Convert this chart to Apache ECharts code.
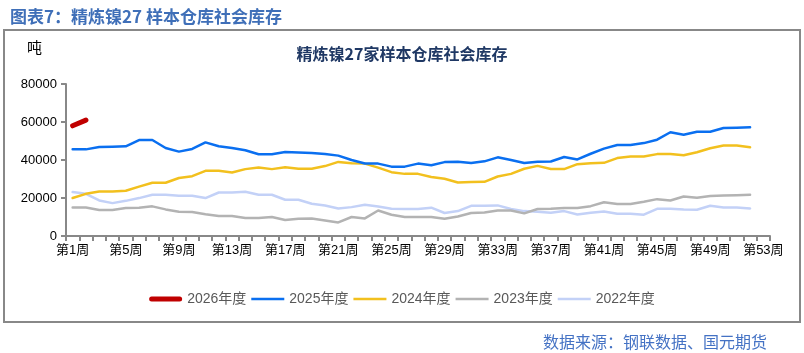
<!DOCTYPE html>
<html>
<head>
<meta charset="utf-8">
<script src="https://cdn.jsdelivr.net/npm/echarts@6/dist/echarts.min.js"></script>
<style>
  html, body { margin: 0; padding: 0; background: #fff; }
  #chart { width: 804px; height: 353px; }
</style>
</head>
<body>
<div id="chart"></div>
<script>
var weeks = ['第1周','第2周','第3周','第4周','第5周','第6周','第7周','第8周','第9周','第10周',
  '第11周','第12周','第13周','第14周','第15周','第16周','第17周','第18周','第19周','第20周',
  '第21周','第22周','第23周','第24周','第25周','第26周','第27周','第28周','第29周','第30周',
  '第31周','第32周','第33周','第34周','第35周','第36周','第37周','第38周','第39周','第40周',
  '第41周','第42周','第43周','第44周','第45周','第46周','第47周','第48周','第49周','第50周',
  '第51周','第52周','第53周'];

var y2026 = [58000, 61000];

var y2025 = [45600,45600,46800,47000,47200,50500,50500,46300,44400,45800,
  49300,47200,46300,45100,43000,43000,44200,44000,43700,43200,
  42300,40000,38200,38100,36500,36500,38100,37200,38900,39100,
  38400,39300,41400,40000,38400,39100,39200,41600,40300,43300,
  46000,47900,47900,48900,50700,54600,53300,54900,54900,56800,
  57000,57200];

var y2024 = [20000,22200,23400,23400,23800,26000,28000,28000,30500,31500,
  34300,34300,33400,35200,36000,35200,36200,35400,35400,36800,
  39000,38300,38100,36000,33600,32700,32700,31100,30100,28200,
  28400,28500,31300,32700,35400,36900,35300,35200,37800,38300,
  38500,41000,41800,41800,43100,43100,42500,44100,46200,47600,
  47600,46700];

var y2023 = [15000,15000,13700,13700,14700,14900,15600,14000,12800,12600,
  11500,10500,10500,9450,9450,10000,8400,9100,9200,8200,
  7150,10000,9250,13400,11200,10000,10000,10000,9100,10300,
  12100,12400,13400,13400,11900,14200,14300,14700,14700,15700,
  17800,16800,16800,18000,19400,18700,20800,20100,21000,21300,
  21500,21700];

var y2022 = [23100,22200,18700,17300,18500,19950,21700,21700,21200,21200,
  19950,22900,22900,23300,21700,21700,19100,19100,17000,16100,
  14500,15200,16400,15500,14300,14200,14200,14900,12100,13100,
  15900,15900,16100,14200,13100,12800,12200,13100,11300,12200,
  12900,11700,11700,11200,14300,14300,14000,13800,15900,15000,
  15000,14500];

var seriesNames = ['2026年度','2025年度','2024年度','2023年度','2022年度'];

// legend icons: a thick bar for 2026, thin bars for the rest
var thickIcon = 'path://M2.5,0H30.5A2.5,2.5,0,0,1,30.5,5H2.5A2.5,2.5,0,0,1,2.5,0Z';
var thinIcon = 'path://M0,0H33V2.5H0Z';

var chart = echarts.init(document.getElementById('chart'));

function line(name, data, color, width) {
  return {
    name: name,
    type: 'line',
    data: data,
    symbol: 'none',
    showSymbol: false,
    lineStyle: { color: color, width: width, cap: 'round' },
    itemStyle: { color: color },
    emphasis: { disabled: true }
  };
}

var option = {
  animation: false,
  backgroundColor: '#fff',
  title: [
    {
      text: '图表7：精炼镍27 样本仓库社会库存',
      left: 5, top: 3,
      textStyle: { color: '#3f6fb8', fontSize: 17, fontWeight: 'bold', fontFamily: 'Noto Sans CJK SC' }
    },
    {
      text: '精炼镍27家样本仓库社会库存',
      left: 'center', top: 41,
      textStyle: { color: '#1f3864', fontSize: 16, fontWeight: 'bold', fontFamily: 'Noto Sans CJK SC' }
    },
    {
      text: '吨',
      left: 22, top: 35,
      textStyle: { color: '#000', fontSize: 15, fontWeight: 'normal', fontFamily: 'Noto Sans CJK SC' }
    },
    {
      text: '数据来源：钢联数据、国元期货',
      right: 32, top: 329,
      textStyle: { color: '#4472c4', fontSize: 16, fontWeight: 'normal', fontFamily: 'Noto Sans CJK SC' }
    }
  ],
  graphic: [
    {
      type: 'rect',
      shape: { x: 4, y: 30, width: 796, height: 292 },
      style: { fill: 'none', stroke: '#888', lineWidth: 2 },
      silent: true
    }
  ],
  legend: {
    data: seriesNames.map(function (n, i) {
      return { name: n, icon: i === 0 ? thickIcon : thinIcon };
    }),
    left: 'center',
    top: 287,
    itemWidth: 33,
    itemHeight: 10,
    itemGap: 5,
    textStyle: { color: '#595959', fontSize: 14, fontFamily: 'Liberation Sans, Noto Sans CJK SC' }
  },
  grid: { left: 66, right: 34, top: 84, bottom: 117 },
  xAxis: {
    type: 'category',
    data: weeks,
    boundaryGap: true,
    axisLine: { lineStyle: { color: '#888', width: 2 } },
    axisTick: { show: true, interval: 0, length: 5, lineStyle: { color: '#888', width: 2 } },
    axisLabel: {
      interval: 3,
      color: '#000',
      fontSize: 13,
      margin: 8,
      fontFamily: 'Liberation Sans, Noto Sans CJK SC'
    },
    splitLine: { show: false }
  },
  yAxis: {
    type: 'value',
    min: 0, max: 80000, interval: 20000,
    axisLine: { show: true, lineStyle: { color: '#888', width: 2 } },
    axisTick: { show: true, length: 5, lineStyle: { color: '#888', width: 2 } },
    axisLabel: {
      color: '#000', fontSize: 13, margin: 9, fontFamily: 'Liberation Sans',
      formatter: function (v) { return String(v); }
    },
    splitLine: { show: false }
  },
  series: [
    line('2022年度', y2022, '#c3d1f7', 2.5),
    line('2023年度', y2023, '#b3b3b3', 2.5),
    line('2024年度', y2024, '#f2c01e', 2.5),
    line('2025年度', y2025, '#0a6ff0', 2.5),
    line('2026年度', y2026, '#c00000', 5)
  ]
};

chart.setOption(option);
</script>
</body>
</html>
